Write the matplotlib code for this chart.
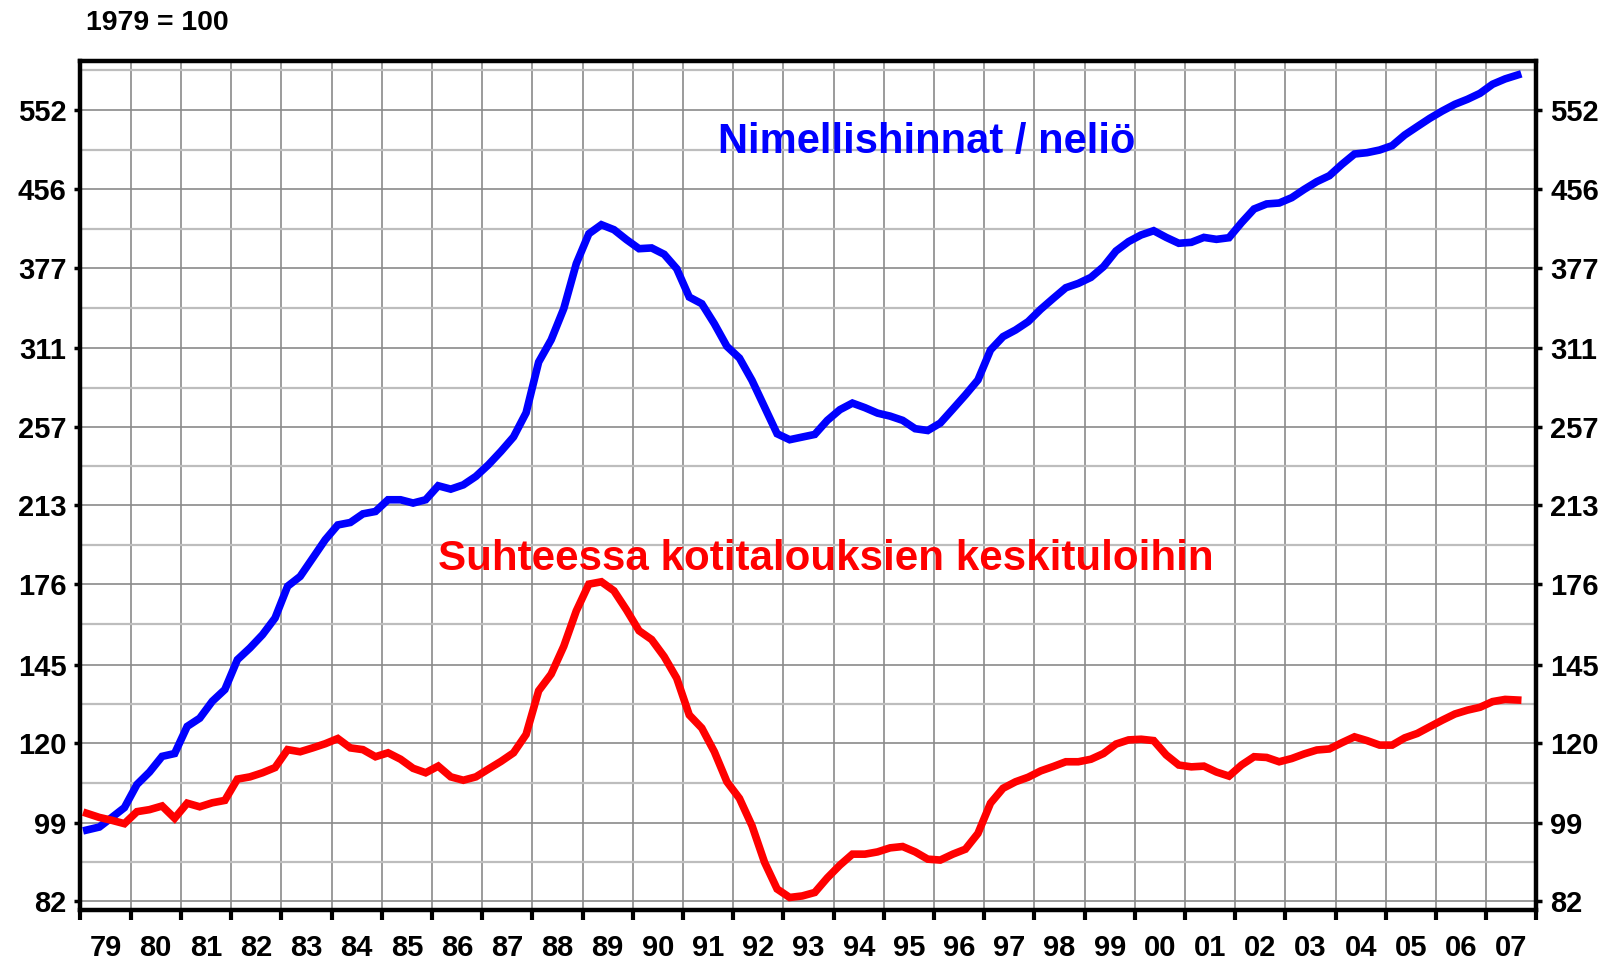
import matplotlib
matplotlib.use("Agg")
import matplotlib.pyplot as plt
from matplotlib.ticker import FixedLocator, FixedFormatter, NullFormatter
import numpy as np
import pandas as pd

# ---------------- data ----------------
start_quarter = "1979Q1"
nominal_per_m2 = [
    97.3, 98.0, 100.3, 102.7, 108.6, 111.9, 116.2, 117.0, 124.9, 127.4,
    132.7, 136.5, 146.7, 150.9, 155.8, 162.2, 175.1, 179.3, 187.4, 195.9,
    203.0, 204.2, 208.5, 209.7, 215.7, 215.7, 214.0, 215.7, 223.1, 221.3,
    223.6, 228.2, 234.7, 242.4, 251.0, 266.0, 300.6, 317.2, 341.9, 381.1,
    409.6, 418.6, 413.6, 403.8, 395.1, 395.8, 389.8, 376.5, 351.6, 346.0,
    329.7, 312.2, 303.5, 287.6, 269.7, 252.9, 249.3, 250.9, 252.5, 261.2,
    268.0, 272.3, 269.3, 265.8, 263.9, 261.2, 256.0, 254.9, 259.5, 268.4,
    277.7, 287.9, 309.5, 319.6, 324.8, 331.4, 341.4, 350.5, 359.6, 363.4,
    368.7, 378.3, 392.9, 401.9, 408.4, 412.6, 406.0, 400.3, 401.2, 406.0,
    404.1, 405.7, 420.7, 434.8, 440.1, 441.1, 446.8, 455.9, 464.4, 471.1,
    484.2, 496.4, 498.0, 501.2, 506.5, 519.7, 530.3, 541.0, 550.7, 559.6,
    566.4, 574.6, 587.3, 594.9, 600.6,
]
relative_to_income = [
    101.3, 100.3, 99.6, 98.8, 101.7, 102.2, 103.1, 100.1, 103.8, 102.9,
    103.9, 104.5, 110.0, 110.6, 111.7, 113.1, 118.1, 117.5, 118.6, 119.8,
    121.3, 118.6, 118.1, 116.1, 117.2, 115.4, 112.9, 111.7, 113.5, 110.6,
    109.7, 110.6, 112.7, 114.8, 117.2, 122.5, 136.1, 141.7, 151.5, 165.0,
    176.0, 177.0, 173.2, 165.4, 157.3, 154.0, 147.8, 140.3, 128.4, 124.4,
    117.5, 109.3, 105.0, 98.3, 90.0, 84.4, 82.7, 83.0, 83.7, 86.7,
    89.4, 91.8, 91.8, 92.3, 93.2, 93.5, 92.3, 90.7, 90.5, 91.8,
    92.9, 96.5, 103.8, 107.6, 109.3, 110.5, 112.2, 113.4, 114.7, 114.7,
    115.4, 117.0, 119.7, 120.9, 121.1, 120.7, 116.6, 113.8, 113.3, 113.5,
    111.9, 110.8, 113.8, 116.1, 115.9, 114.7, 115.6, 116.9, 118.0, 118.3,
    120.1, 121.8, 120.7, 119.4, 119.4, 121.5, 122.8, 124.8, 126.8, 128.7,
    129.9, 130.8, 132.6, 133.3, 133.1,
]
ytick_values = [82, 99, 120, 145, 176, 213, 257, 311, 377, 456, 552]
year_labels = ["79", "80", "81", "82", "83", "84", "85", "86", "87", "88",
               "89", "90", "91", "92", "93", "94", "95", "96", "97", "98",
               "99", "00", "01", "02", "03", "04", "05", "06", "07"]
first_year = 1979
title_text = "1979 = 100"
label_blue = "Nimellishinnat / neliö"
label_red = "Suhteessa kotitalouksien keskituloihin"

# ---------------- figure ----------------
plt.rcParams['font.family'] = ['Liberation Sans', 'DejaVu Sans']
plt.rcParams['font.weight'] = 'bold'

fig = plt.figure(figsize=(16.19, 9.61), dpi=100)
ax = fig.add_axes([0.04972, 0.05255, 0.89932, 0.88449])

periods = pd.period_range(start_quarter, periods=len(nominal_per_m2), freq="Q")
x = np.array([p.year + (p.quarter - 0.5) / 4 for p in periods])

ax.set_yscale('log')
ax.set_xlim(first_year, first_year + len(year_labels))
ax.set_ylim(80.14, 621.9)

# y ticks
ax.yaxis.set_major_locator(FixedLocator(ytick_values))
ax.yaxis.set_major_formatter(FixedFormatter([str(v) for v in ytick_values]))
mids = [np.sqrt(a * b) for a, b in zip(ytick_values[:-1], ytick_values[1:])]
mids.append(ytick_values[-1] * np.sqrt(ytick_values[-1] / ytick_values[-2]))
ax.yaxis.set_minor_locator(FixedLocator(mids))
ax.yaxis.set_minor_formatter(NullFormatter())

# x ticks: year boundaries as major, mid-year labels as minor
bounds = np.arange(first_year, first_year + len(year_labels) + 1)
ax.xaxis.set_major_locator(FixedLocator(bounds))
ax.xaxis.set_major_formatter(NullFormatter())
ax.xaxis.set_minor_locator(FixedLocator(bounds[:-1] + 0.5))
ax.xaxis.set_minor_formatter(FixedFormatter(year_labels))

ax.tick_params(axis='y', which='major', direction='out', length=4, width=2.5,
               labelsize=21, left=True, right=True, labelleft=True,
               labelright=True, pad=6)
ax.tick_params(axis='y', which='minor', length=0)
ax.tick_params(axis='x', which='major', direction='out', length=7.5, width=3)
ax.tick_params(axis='x', which='minor', length=0, labelsize=21, pad=17)
for lab in ax.get_yticklabels() + ax.get_xticklabels(minor=True):
    lab.set_fontweight('bold')

# grid
ax.grid(True, axis='y', which='major', color='#8a8a8a', linewidth=1.2, zorder=0)
ax.grid(True, axis='y', which='minor', color='#bdbdbd', linewidth=1.6, zorder=0)
ax.grid(True, axis='x', which='major', color='#8a8a8a', linewidth=1.2, zorder=0)
ax.set_axisbelow(True)

for sp in ax.spines.values():
    sp.set_linewidth(3.2)
    sp.set_color('black')

ax.plot(x, nominal_per_m2, color='#0000ff', linewidth=5.5,
        solid_joinstyle='miter', solid_capstyle='projecting', zorder=3)
ax.plot(x, relative_to_income, color='#ff0000', linewidth=5.5,
        solid_joinstyle='miter', solid_capstyle='projecting', zorder=4)

fig.text(86 / 1619, 1 - 30 / 961, title_text, fontsize=20.5, fontweight='bold',
         ha='left', va='baseline')
fig.text(718 / 1619, 1 - 152.7 / 961, label_blue, fontsize=30, fontweight='bold',
         color='#0000ff', ha='left', va='baseline')
fig.text(437.9 / 1619, 1 - 570 / 961, label_red, fontsize=30.3, fontweight='bold',
         color='#ff0000', ha='left', va='baseline')

fig.savefig('out.png', dpi=100)
